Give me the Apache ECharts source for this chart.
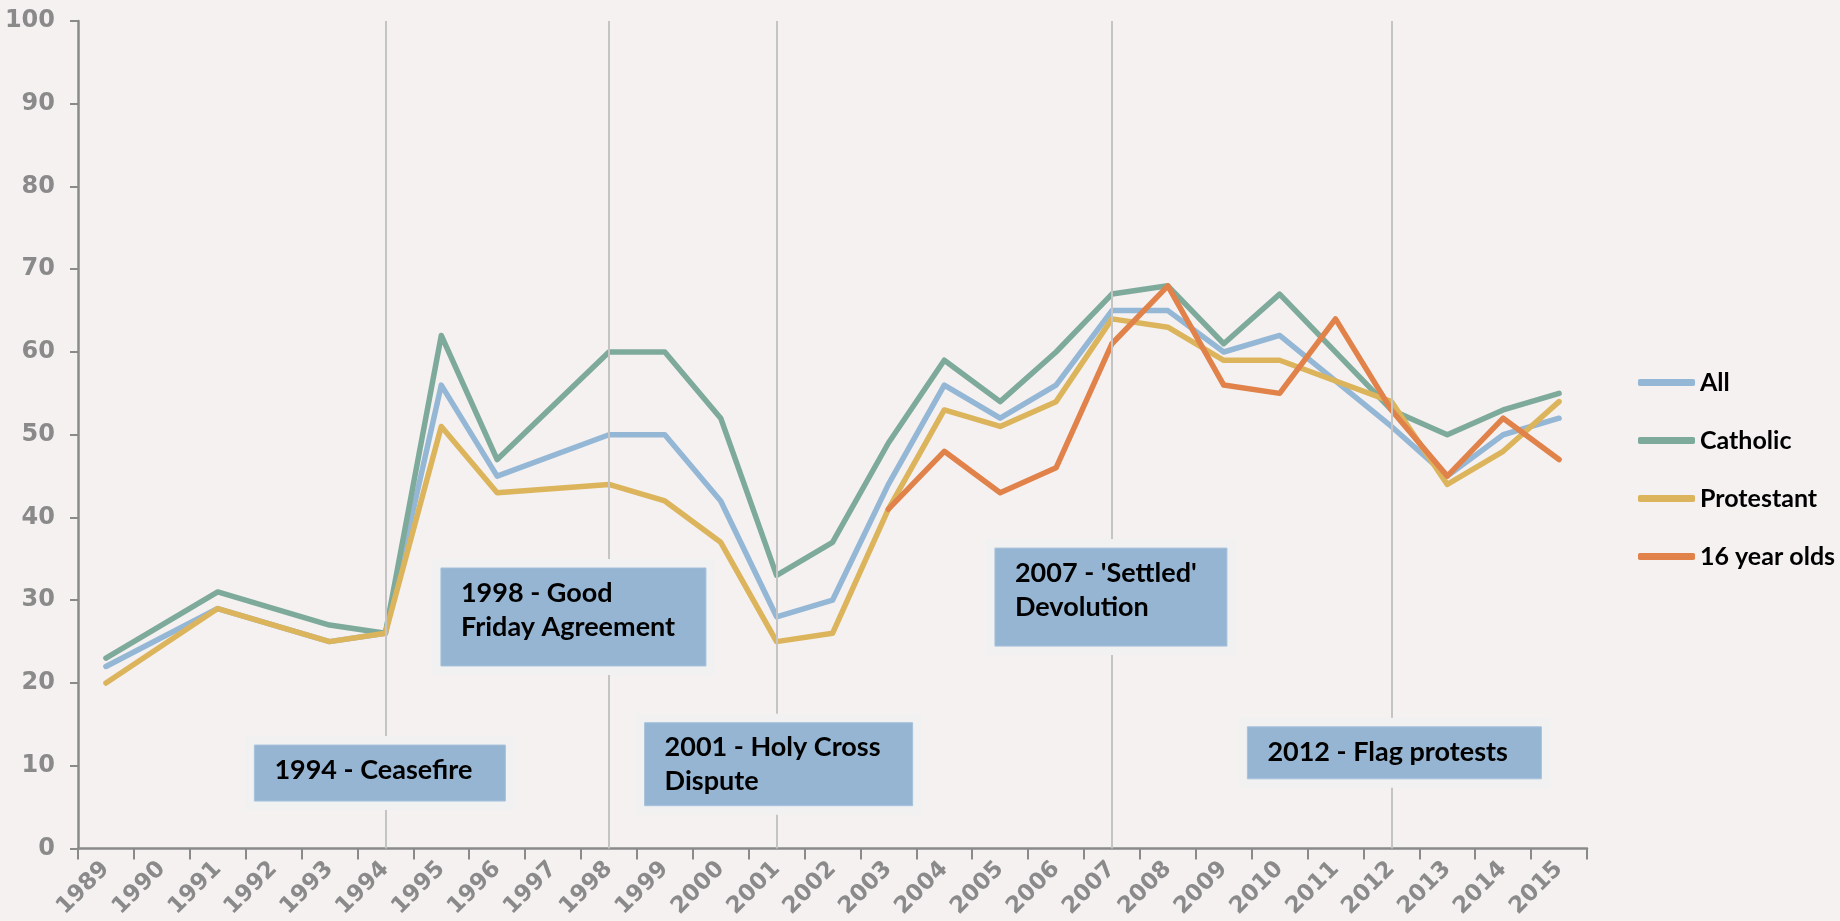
<!DOCTYPE html>
<html>
<head>
<meta charset="utf-8">
<script src="https://cdn.jsdelivr.net/npm/echarts@6/dist/echarts.min.js"></script>
<style>
  html, body { margin: 0; padding: 0; background: #f4f1f0; }
  #chart { width: 1840px; height: 921px; }
</style>
</head>
<body>
<div id="chart"></div>
<script>
// years on the x axis
const years = ['1989', '1990', '1991', '1992', '1993', '1994', '1995', '1996', '1997', '1998',
  '1999', '2000', '2001', '2002', '2003', '2004', '2005', '2006', '2007', '2008',
  '2009', '2010', '2011', '2012', '2013', '2014', '2015']

// series values (null = no survey that year)
const allValues = [22, null, 29, null, 25, 26, 56, 45, null, 50,
  50, 42, 28, 30, 44, 56, 52, 56, 65, 65,
  60, 62, null, 51, 45, 50, 52]
const catholicValues = [23, null, 31, null, 27, 26, 62, 47, null, 60,
  60, 52, 33, 37, 49, 59, 54, 60, 67, 68,
  61, 67, null, 53, 50, 53, 55]
const protestantValues = [20, null, 29, null, 25, 26, 51, 43, null, 44,
  42, 37, 25, 26, 41, 53, 51, 54, 64, 63,
  59, 59, null, 54, 44, 48, 54]
const youthValues = [null, null, null, null, null, null, null, null, null, null,
  null, null, null, null, 41, 48, 43, 46, 61, 68,
  56, 55, 64, 53, 45, 52, 47]

// events marked with a vertical line and a note
const eventYears = ['1994', '1998', '2001', '2007', '2012']
const eventTexts = ['1994 - Ceasefire', '1998 - Good\nFriday Agreement', '2001 - Holy Cross\nDispute',
  "2007 - 'Settled'\nDevolution", '2012 - Flag protests']

// note box layout: offset from the event line (px), top (axis value), size (px)
const boxLayout = [
  { dx: -131, top: 12.5, w: 251, h: 56 },
  { dx: -168, top: 33.9, w: 265, h: 98 },
  { dx: -132, top: 15.2, w: 268, h: 83 },
  { dx: -117, top: 36.3, w: 232, h: 98 },
  { dx: -144, top: 14.7, w: 294, h: 52 }
]

const axisGrey = '#8a8a8a'
const labelFont = '"DejaVu Sans", Verdana, sans-serif'
const textFont = 'Lato'

const chart = echarts.init(document.getElementById('chart'))

const lineSeries = (name, data, color) => ({
  name,
  type: 'line',
  data,
  connectNulls: true,
  showSymbol: false,
  symbol: 'none',
  lineStyle: { width: 5.5, color, cap: 'round', join: 'round' },
  itemStyle: { color },
  emphasis: { disabled: true }
})

const option = {
  animation: false,
  backgroundColor: '#f4f1f0',
  grid: { left: 78, right: 253, top: 21, bottom: 70 },
  legend: {
    orient: 'vertical',
    left: 1633,
    top: 365,
    icon: 'roundRect',
    itemWidth: 57,
    itemHeight: 7,
    itemGap: 33,
    textStyle: { fontFamily: textFont, fontWeight: 'bold', fontSize: 25, color: '#000' },
    data: ['All', 'Catholic', 'Protestant', '16 year olds']
  },
  xAxis: {
    type: 'category',
    data: years,
    boundaryGap: true,
    axisLine: { lineStyle: { color: axisGrey, width: 2.5 } },
    axisTick: { show: true, length: 11, lineStyle: { color: axisGrey, width: 2 } },
    axisLabel: {
      rotate: 45,
      interval: 0,
      margin: 17,
      color: axisGrey,
      fontFamily: labelFont,
      fontWeight: 'bold',
      fontSize: 23
    },
    splitLine: { show: false }
  },
  yAxis: {
    type: 'value',
    min: 0,
    max: 100,
    interval: 10,
    axisLine: { show: true, lineStyle: { color: axisGrey, width: 2.5 } },
    axisTick: { show: true, length: 8, lineStyle: { color: axisGrey, width: 2 } },
    axisLabel: {
      margin: 23,
      color: axisGrey,
      fontFamily: labelFont,
      fontWeight: 'bold',
      fontSize: 24
    },
    splitLine: { show: false }
  },
  series: [
    Object.assign(lineSeries('All', allValues, '#95b7d6'), {
      markLine: {
        silent: true,
        symbol: ['none', 'none'],
        label: { show: false },
        lineStyle: { color: '#c4c4c4', width: 2, type: 'solid' },
        data: eventYears.map(y => ({ xAxis: y }))
      }
    }),
    lineSeries('Catholic', catholicValues, '#7eaa9c'),
    lineSeries('Protestant', protestantValues, '#dcb45c'),
    lineSeries('16 year olds', youthValues, '#e0824a')
  ]
}

chart.setOption(option)

// note boxes, anchored on the event year and axis value
const graphics = []
eventYears.forEach((y, i) => {
  const b = boxLayout[i]
  const p = chart.convertToPixel({ gridIndex: 0 }, [years.indexOf(y), b.top])
  const x = p[0] + b.dx
  const top = p[1]
  graphics.push({
    type: 'rect',
    z: 100,
    silent: true,
    shape: { x: x - 9, y: top - 9, width: b.w + 18, height: b.h + 18 },
    style: { fill: '#f1f1f1' }
  })
  graphics.push({
    type: 'rect',
    z: 101,
    silent: true,
    shape: { x, y: top, width: b.w, height: b.h },
    style: { fill: '#95b5d3', stroke: '#a6c2dc', lineWidth: 1 }
  })
  graphics.push({
    type: 'text',
    z: 102,
    silent: true,
    style: {
      x: x + 20,
      y: top + 8,
      text: eventTexts[i],
      fill: '#000',
      font: 'bold 27px ' + textFont,
      lineHeight: 34,
      verticalAlign: 'top',
      align: 'left'
    }
  })
})
chart.setOption({ graphic: graphics })
</script>
</body>
</html>
